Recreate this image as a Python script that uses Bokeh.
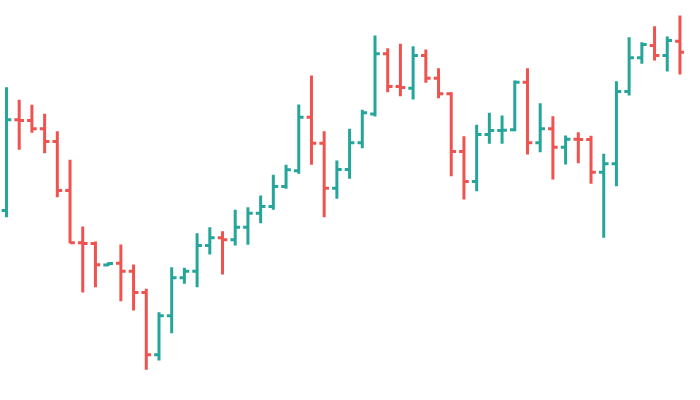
from bokeh.plotting import figure
from bokeh.models import ColumnDataSource, Range1d
from bokeh.embed import file_html
from bokeh.resources import INLINE

opens = [190.0, 280.7, 280.0, 271.7, 259.0, 210.0, 157.7, 157.0, 135.5, 137.3,
         129.3, 108.0, 45.7, 84.7, 122.7, 129.3, 155.0, 162.7, 160.7, 173.3,
         187.3, 194.0, 214.0, 229.7, 283.3, 257.3, 212.3, 231.0, 257.7, 286.5,
         346.7, 314.0, 312.3, 345.0, 322.3, 306.7, 249.0, 219.0, 266.0, 270.0,
         270.7, 318.3, 257.7, 271.7, 253.3, 261.3, 261.0, 228.3, 236.7, 309.0,
         342.7, 355.0, 345.0, 359.3]
highs = [313.3, 300.7, 295.7, 286.7, 269.3, 240.7, 174.0, 159.0, 138.0, 156.0,
         136.0, 111.7, 88.3, 133.3, 132.7, 167.3, 173.3, 169.3, 190.7, 193.3,
         205.0, 225.7, 235.7, 296.0, 325.0, 269.3, 240.0, 271.7, 290.7, 365.0,
         352.3, 356.7, 354.3, 351.0, 332.3, 308.3, 264.3, 275.7, 287.7, 285.0,
         320.0, 332.3, 297.3, 284.3, 265.0, 268.3, 264.7, 246.7, 319.3, 363.3,
         358.3, 374.3, 364.0, 385.0]
lows = [183.3, 250.7, 267.7, 247.3, 203.3, 157.3, 108.0, 113.3, 134.5, 99.3,
        90.0, 30.7, 40.0, 67.3, 116.7, 113.3, 146.0, 126.0, 155.0, 155.7,
        177.3, 190.7, 211.7, 226.7, 235.7, 183.3, 201.7, 221.7, 252.3, 284.0,
        308.3, 304.3, 301.0, 317.7, 302.3, 224.3, 201.0, 209.3, 256.7, 256.7,
        269.3, 246.0, 248.3, 221.0, 236.0, 237.3, 216.7, 162.7, 214.3, 305.0,
        336.7, 340.0, 329.0, 326.0]
closes = [280.7, 280.0, 271.7, 259.0, 210.0, 157.7, 157.0, 135.7, 137.0, 129.3,
          108.0, 45.7, 84.7, 122.7, 129.3, 155.0, 162.7, 160.7, 173.3, 187.3,
          194.0, 214.0, 230.7, 283.3, 257.3, 212.3, 231.0, 257.7, 287.7, 346.7,
          314.0, 313.0, 345.0, 322.3, 306.7, 249.0, 219.0, 266.0, 270.0, 270.3,
          318.3, 257.7, 271.7, 253.3, 261.3, 261.0, 228.3, 236.7, 309.0, 342.7,
          356.0, 345.0, 360.0, 348.3]

UP = "#26a69a"
DOWN = "#ef5350"
TICK = 0.38

idx = list(range(len(opens)))
colors = [UP if c >= o else DOWN for o, c in zip(opens, closes)]
src = ColumnDataSource(dict(
    x=idx,
    xl=[i - TICK for i in idx],
    xr=[i + TICK for i in idx],
    o=opens, h=highs, l=lows, c=closes, color=colors,
))

p = figure(width=684, height=384, output_backend="svg", toolbar_location=None,
           x_range=Range1d(-0.472, 53.357), y_range=Range1d(16, 400),
           min_border=0, background_fill_color="white", border_fill_color="white")
p.axis.visible = False
p.xgrid.visible = False
p.ygrid.visible = False
p.outline_line_color = None

p.segment(x0="x", y0="l", x1="x", y1="h", color="color", line_width=3, source=src)
p.segment(x0="xl", y0="o", x1="x", y1="o", color="color", line_width=3, source=src)
p.segment(x0="x", y0="c", x1="xr", y1="c", color="color", line_width=3, source=src)

open("out.html", "w").write(file_html(p, INLINE))
